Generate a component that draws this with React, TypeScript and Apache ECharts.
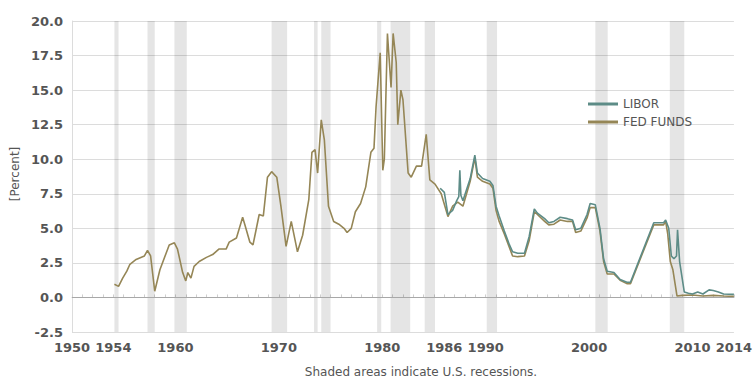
import React, { useEffect, useRef } from "react";
import * as echarts from "echarts";

const xLabelYears = [1950, 1954, 1960, 1970, 1980, 1986, 1990, 2000, 2010, 2014];

const recessions: [number, number][] = [
  [1954.1, 1954.5],
  [1957.3, 1958.0],
  [1959.9, 1961.1],
  [1969.3, 1970.8],
  [1973.4, 1973.75],
  [1974.1, 1975.0],
  [1979.5, 1979.9],
  [1980.8, 1982.7],
  [1984.1, 1985.1],
  [1990.1, 1991.1],
  [2000.6, 2001.8],
  [2007.8, 2009.2],
];

const fedFunds: [number, number][] = [
  [1954.1, 0.95], [1954.5, 0.8], [1954.9, 1.4], [1955.3, 1.9], [1955.6, 2.4],
  [1956.2, 2.75], [1957.0, 3.0], [1957.3, 3.4], [1957.6, 3.0], [1958.0, 0.45],
  [1958.5, 2.0], [1959.1, 3.2], [1959.4, 3.8], [1959.9, 3.95], [1960.2, 3.5],
  [1960.7, 1.8], [1961.0, 1.2], [1961.2, 1.8], [1961.5, 1.4], [1961.8, 2.25],
  [1962.3, 2.6], [1963.0, 2.9], [1963.6, 3.1], [1964.2, 3.5], [1964.9, 3.5],
  [1965.2, 4.0], [1965.9, 4.3], [1966.5, 5.8], [1966.7, 5.3], [1967.2, 4.0],
  [1967.5, 3.8], [1967.8, 4.9], [1968.1, 6.0], [1968.5, 5.9], [1968.9, 8.7],
  [1969.3, 9.1], [1969.8, 8.7], [1970.2, 6.6], [1970.7, 3.7], [1971.2, 5.5],
  [1971.8, 3.3], [1972.3, 4.5], [1972.9, 7.1], [1973.2, 10.5], [1973.5, 10.7],
  [1973.75, 9.0], [1974.1, 12.85], [1974.4, 11.4], [1974.8, 6.6], [1975.3, 5.5],
  [1975.8, 5.3], [1976.3, 5.0], [1976.6, 4.7], [1977.0, 5.0], [1977.4, 6.2],
  [1977.9, 6.8], [1978.4, 8.0], [1978.9, 10.5], [1979.2, 10.8], [1979.4, 13.8],
  [1979.8, 17.7], [1980.05, 9.2], [1980.2, 10.0], [1980.5, 19.1], [1980.85, 15.2],
  [1981.05, 19.1], [1981.35, 17.0], [1981.5, 12.5], [1981.8, 15.0], [1982.0, 14.3],
  [1982.5, 9.0], [1982.8, 8.7], [1983.3, 9.5], [1983.8, 9.5], [1984.25, 11.8],
  [1984.6, 8.5], [1985.1, 8.2], [1985.7, 7.5], [1986.35, 5.85], [1986.8, 6.6],
  [1987.3, 6.9], [1987.8, 6.6], [1988.5, 8.4], [1988.95, 10.1], [1989.2, 8.7],
  [1989.7, 8.4], [1990.4, 8.2], [1990.7, 7.9], [1991.0, 6.3], [1991.3, 5.5],
  [1991.8, 4.6], [1992.3, 3.6], [1992.6, 3.0], [1993.1, 2.95], [1993.75, 3.0],
  [1994.2, 4.1], [1994.7, 6.2], [1995.0, 6.0], [1995.7, 5.5], [1996.1, 5.25],
  [1996.6, 5.3], [1997.2, 5.6], [1997.9, 5.5], [1998.4, 5.5], [1998.7, 4.7],
  [1999.2, 4.8], [1999.8, 5.75], [2000.1, 6.5], [2000.6, 6.5], [2001.05, 4.8],
  [2001.4, 2.6], [2001.75, 1.7], [2002.4, 1.7], [2003.0, 1.25], [2003.65, 1.0],
  [2004.0, 1.0], [2006.25, 5.25], [2007.2, 5.25], [2007.4, 5.5], [2007.6, 4.6],
  [2007.85, 2.6], [2008.1, 2.0], [2008.5, 0.1], [2009.0, 0.15], [2010.0, 0.18],
  [2011.0, 0.1], [2012.0, 0.15], [2013.0, 0.1], [2014.0, 0.08],
];

const libor: [number, number][] = [
  [1985.6, 7.9], [1986.0, 7.6], [1986.35, 6.0], [1986.8, 6.3], [1987.2, 7.0],
  [1987.4, 7.3], [1987.5, 9.2], [1987.6, 7.4], [1987.8, 7.0], [1988.5, 8.6],
  [1988.95, 10.3], [1989.2, 9.0], [1989.7, 8.6], [1990.4, 8.4], [1990.7, 8.1],
  [1991.0, 6.6], [1991.3, 5.9], [1991.8, 4.8], [1992.3, 3.8], [1992.6, 3.3],
  [1993.1, 3.2], [1993.75, 3.2], [1994.2, 4.4], [1994.7, 6.4], [1995.0, 6.1],
  [1995.7, 5.7], [1996.1, 5.4], [1996.6, 5.5], [1997.2, 5.8], [1997.9, 5.7],
  [1998.4, 5.6], [1998.7, 4.9], [1999.2, 5.0], [1999.8, 6.0], [2000.1, 6.8],
  [2000.6, 6.7], [2001.05, 5.0], [2001.4, 2.8], [2001.75, 1.9], [2002.4, 1.8],
  [2003.0, 1.3], [2003.65, 1.1], [2004.0, 1.1], [2006.25, 5.4], [2007.2, 5.4],
  [2007.4, 5.6], [2007.7, 5.0], [2007.95, 3.0], [2008.2, 2.8], [2008.45, 3.0],
  [2008.55, 4.9], [2008.75, 2.6], [2009.2, 0.4], [2009.6, 0.3], [2010.0, 0.25],
  [2010.5, 0.4], [2011.0, 0.25], [2011.6, 0.55], [2012.0, 0.5], [2012.5, 0.4],
  [2013.0, 0.25], [2014.0, 0.22],
];

const FONT = "DejaVu Sans";
const FED_COLOR = "#958656";
const LIBOR_COLOR = "#5d8c87";

export default function App() {
  const ref = useRef<HTMLDivElement>(null);
  useEffect(() => {
    const chart = echarts.init(ref.current!, null, { renderer: "svg" });
    chart.setOption({
      animation: false,
      grid: { left: 72, top: 21, width: 666, height: 311, containLabel: false },
      legend: {
        orient: "vertical",
        left: 583,
        top: 92,
        itemWidth: 30,
        itemHeight: 3,
        itemGap: 4,
        icon: "rect",
        textStyle: { fontFamily: FONT, fontSize: 12, color: "#555", lineHeight: 14 },
        data: ["LIBOR", "FED FUNDS"],
      },
      xAxis: {
        type: "value",
        min: 1950,
        max: 2014,
        interval: 1,
        axisLine: { show: true, lineStyle: { color: "#cfcfcf" } },
        axisTick: { show: true, inside: true, length: 3, lineStyle: { color: "#cfcfcf" } },
        splitLine: { show: false },
        axisLabel: {
          margin: 9,
          fontFamily: FONT,
          fontSize: 13,
          fontWeight: "bold",
          color: "#555",
          formatter: (v: number) => (xLabelYears.includes(Math.round(v)) ? String(Math.round(v)) : ""),
        },
      },
      yAxis: {
        type: "value",
        min: -2.5,
        max: 20,
        interval: 2.5,
        axisLine: { show: true, lineStyle: { color: "#dcdcdc" } },
        axisTick: { show: false },
        splitLine: { show: true, lineStyle: { color: "#dcdcdc" } },
        axisLabel: {
          margin: 9,
          fontFamily: FONT,
          fontSize: 13,
          fontWeight: "bold",
          color: "#555",
          formatter: (v: number) => v.toFixed(1),
        },
      },
      series: [
        {
          name: "FED FUNDS",
          type: "line",
          data: fedFunds,
          showSymbol: false,
          symbol: "none",
          lineStyle: { color: FED_COLOR, width: 1.6 },
          itemStyle: { color: FED_COLOR },
          z: 3,
          markArea: {
            silent: true,
            itemStyle: { color: "rgba(0,0,0,0.1)" },
            data: recessions.map(([a, b]) => [{ xAxis: a }, { xAxis: b }]),
          },
          markLine: {
            silent: true,
            symbol: "none",
            label: { show: false },
            lineStyle: { color: "#a8a8a8", type: "solid", width: 1 },
            data: [{ yAxis: 0 }],
          },
        },
        {
          name: "LIBOR",
          type: "line",
          data: libor,
          showSymbol: false,
          symbol: "none",
          lineStyle: { color: LIBOR_COLOR, width: 1.6 },
          itemStyle: { color: LIBOR_COLOR },
          z: 4,
        },
      ],
      graphic: [
        {
          type: "text",
          x: 15,
          y: 174,
          rotation: Math.PI / 2,
          style: {
            text: "[Percent]",
            fontFamily: FONT,
            fontSize: 12,
            fill: "#555",
            align: "center",
            verticalAlign: "middle",
          },
        },
        {
          type: "text",
          x: 421,
          y: 372,
          style: {
            text: "Shaded areas indicate U.S. recessions.",
            fontFamily: FONT,
            fontSize: 12,
            fill: "#555",
            align: "center",
            verticalAlign: "middle",
          },
        },
      ],
    });
    return () => chart.dispose();
  }, []);
  return <div ref={ref} style={{ position: "absolute", left: 0, top: 0, width: 755, height: 379 }} />;
}
